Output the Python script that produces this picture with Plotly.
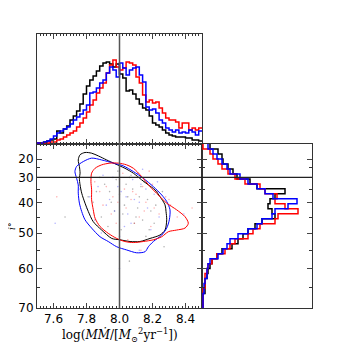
import numpy as np
import plotly.graph_objects as go

# --- top histogram: log(M Mdot), bins of 0.02 from 7.5 to 8.5 ---
mm_edges = np.round(np.arange(7.5, 8.5001, 0.02), 3)
hist_top_black = [1, 1, 2, 3, 4, 5, 13, 11, 15, 18, 24, 28, 33, 40, 50, 58, 64, 68, 73, 78,
                  81, 82, 80, 77, 80, 70, 66, 53, 54, 50, 45, 40, 36, 34, 28, 21, 19, 17, 14, 11,
                  9, 8, 7, 7, 7, 6, 6, 4, 4, 3]
hist_top_blue = [1, 1, 2, 3, 5, 8, 11, 13, 15, 17, 20, 24, 27, 30, 34, 39, 51, 52, 56, 61,
                 64, 71, 77, 74, 67, 81, 76, 69, 74, 76, 77, 69, 62, 37, 34, 35, 31, 24, 21, 16,
                 14, 12, 14, 11, 12, 11, 14, 12, 9, 13]
hist_top_red = [1, 1, 1, 1, 2, 2, 4, 5, 7, 9, 11, 13, 17, 21, 26, 32, 39, 44, 51, 56,
                61, 71, 79, 84, 77, 74, 76, 82, 81, 79, 67, 61, 49, 42, 44, 41, 42, 36, 31, 26,
                24, 24, 22, 16, 21, 21, 14, 16, 14, 16]

# --- right histogram: cos(i), bins of 0.02 from 1.0 down to 0.34 ---
cos_edges = np.round(np.arange(1.0, 0.3399, -0.02), 3)
hist_right_black = [8, 16, 20, 21, 26, 31, 35, 48, 55, 83, 73, 68, 66, 70, 73, 60, 53,
                    46, 41, 36, 30, 20, 15, 10, 8, 6, 5, 3, 3, 3, 1, 1, 1]
hist_right_red = [1, 8, 11, 16, 20, 26, 33, 43, 58, 63, 75, 73, 83, 96, 76, 73, 58,
                  51, 46, 33, 28, 23, 15, 10, 6, 5, 3, 3, 3, 1, 1, 1, 1]
hist_right_blue = [6, 11, 15, 20, 25, 28, 38, 46, 55, 63, 71, 95, 86, 73, 70, 60, 55,
                   46, 36, 28, 25, 21, 16, 8, 6, 5, 5, 3, 2, 2, 1, 1, 1]

# --- contours (logMMdot, inclination deg) ---
cont_black_x = [7.791, 7.761, 7.750, 7.757, 7.761, 7.757, 7.761, 7.771, 7.791, 7.811, 7.841,
                7.892, 7.953, 8.003, 8.064, 8.124, 8.185, 8.245, 8.276, 8.286, 8.282, 8.276,
                8.245, 8.215, 8.175, 8.134, 8.084, 8.033, 7.973, 7.922, 7.872, 7.831, 7.791]
cont_black_i = [15.0, 16.9, 20.6, 24.5, 28.0, 30.4, 33.3, 36.6, 40.3, 43.2, 46.5,
                49.1, 51.6, 52.0, 52.5, 52.5, 51.6, 50.6, 49.1, 45.9, 43.2, 40.9,
                37.9, 35.3, 33.3, 31.1, 28.0, 25.5, 23.0, 20.6, 17.8, 15.6, 15.0]
cont_blue_x = [7.730, 7.740, 7.781, 7.831, 7.892, 7.963, 8.023, 8.084, 8.144, 8.205, 8.256,
               8.286, 8.306, 8.302, 8.286, 8.256, 8.205, 8.175, 8.155, 8.104, 8.043, 7.983,
               7.932, 7.882, 7.831, 7.791, 7.771, 7.757, 7.750, 7.750, 7.740, 7.730]
cont_blue_i = [27.2, 24.5, 21.6, 19.4, 20.6, 22.6, 24.2, 27.2, 30.4, 34.0, 37.3,
               39.7, 42.6, 45.9, 48.5, 50.6, 52.5, 54.0, 55.4, 55.7, 54.9, 54.0,
               52.5, 51.1, 48.5, 45.9, 43.2, 40.3, 36.6, 33.3, 30.4, 27.2]
cont_red_x = [7.831, 7.852, 7.892, 7.942, 7.993, 8.043, 8.084, 8.134, 8.185, 8.235, 8.286,
              8.346, 8.397, 8.417, 8.397, 8.346, 8.296, 8.256, 8.205, 8.144, 8.084, 8.033,
              7.983, 7.932, 7.882, 7.852, 7.841, 7.831, 7.831, 7.827, 7.831]
cont_red_i = [28.0, 25.5, 23.6, 22.6, 22.6, 23.6, 25.5, 29.6, 34.0, 37.3, 40.3,
              42.6, 44.9, 47.0, 48.5, 49.1, 49.6, 51.1, 52.0, 52.5, 52.8, 52.5,
              51.6, 50.1, 48.0, 45.4, 42.6, 39.1, 35.3, 31.9, 28.0]

# --- scattered samples ---
dots_black_x = [7.86, 7.91, 7.95, 7.98, 8.02, 8.05, 8.08, 8.11, 8.14, 8.17, 7.89, 7.93, 8.00, 8.04,
                8.09, 8.13, 8.19, 8.22, 7.84, 7.97, 8.01, 8.06, 8.12, 8.16, 7.94, 8.03, 8.10, 8.26,
                7.67, 8.27, 8.06, 7.99, 8.15, 7.88, 8.21, 7.81, 8.07, 8.18]
dots_black_i = [36, 33, 40, 31, 44, 38, 35, 42, 46, 39, 45, 48, 37, 33, 47, 34, 43, 41, 40, 43,
                49, 30, 38, 51, 36, 41, 45, 36, 45, 54, 58, 27, 32, 30, 47, 38, 29, 49]
dots_red_x = [7.92, 7.96, 8.00, 8.04, 8.08, 8.12, 8.16, 8.20, 8.24, 8.28, 7.90, 7.98, 8.03, 8.07,
              8.11, 8.15, 8.19, 8.23, 8.31, 8.35, 7.88, 7.95, 8.02, 8.10, 8.14, 8.21, 8.26, 7.62,
              8.44, 8.05, 7.85, 8.18, 8.09, 7.99, 8.30, 8.13]
dots_red_i = [34, 38, 31, 42, 36, 45, 40, 33, 44, 38, 41, 47, 35, 39, 30, 43, 48, 36, 41, 45,
              36, 44, 28, 37, 34, 42, 50, 38, 42, 52, 32, 27, 47, 40, 39, 55]
dots_blue_x = [7.82, 7.87, 7.92, 7.96, 8.01, 8.05, 8.09, 8.13, 8.17, 8.21, 7.85, 7.90, 7.97, 8.03,
               8.08, 8.12, 8.16, 8.24, 7.80, 7.94, 8.00, 8.07, 8.11, 8.19, 7.61, 8.12, 8.00, 8.39,
               7.99, 8.14, 7.89, 8.04, 8.23, 7.76]
dots_blue_i = [38, 34, 41, 30, 36, 44, 39, 33, 42, 37, 46, 29, 43, 48, 31, 40, 35, 45, 42, 39,
               51, 47, 28, 49, 47, 55, 60, 44, 34, 26, 50, 38, 32, 35]

tick_deg = [20, 30, 40, 50, 60, 70]
minor_deg = [25, 35, 45, 55, 65]

cosd = lambda a: np.cos(np.radians(np.asarray(a, dtype=float)))

fig = go.Figure()

# top histogram
for counts, col in [(hist_top_black, "black"), (hist_top_red, "red"), (hist_top_blue, "blue")]:
    fig.add_trace(go.Scatter(x=mm_edges, y=list(counts) + [counts[-1]], mode="lines",
                             line=dict(color=col, width=1.5, shape="hv"),
                             xaxis="x2", yaxis="y2", showlegend=False))

# right histogram (horizontal steps)
for counts, col in [(hist_right_black, "black"), (hist_right_red, "red"), (hist_right_blue, "blue")]:
    xs, ys = [], []
    for j, w in enumerate(counts):
        xs += [w, w]
        ys += [cos_edges[j], cos_edges[j] - 0.02]
    fig.add_trace(go.Scatter(x=xs, y=ys, mode="lines", line=dict(color=col, width=1.5),
                             xaxis="x3", yaxis="y3", showlegend=False))

# dots
for dx, di, col in [(dots_black_x, dots_black_i, "black"), (dots_red_x, dots_red_i, "red"),
                    (dots_blue_x, dots_blue_i, "blue")]:
    fig.add_trace(go.Scatter(x=dx, y=cosd(di), mode="markers",
                             marker=dict(color=col, size=1.6, opacity=0.3, line=dict(width=0)),
                             showlegend=False))

# contours
for cx, ci, col in [(cont_black_x, cont_black_i, "black"), (cont_blue_x, cont_blue_i, "blue"),
                    (cont_red_x, cont_red_i, "red")]:
    fig.add_trace(go.Scatter(x=cx, y=cosd(ci), mode="lines",
                             line=dict(color=col, width=1, shape="spline", smoothing=0.8),
                             showlegend=False))

W, H = 346, 348
OFF = 8  # page body margin
px = lambda p: (p - OFF) / W
py = lambda p: 1 - (p - OFF) / H
L, R, Rr = px(37), px(202), px(312)
B, M, T = py(308), py(144), py(34)

ycos_range = [float(cosd(70)), 1.0]
axcol = "#333"
tickfont = dict(family="DejaVu Sans", size=12, color="black")

fig.update_layout(
    width=W, height=H, margin=dict(l=0, r=0, t=0, b=0, autoexpand=False),
    plot_bgcolor="white", paper_bgcolor="white",
    xaxis=dict(domain=[L, R], range=[7.5, 8.5], tickvals=[7.6, 7.8, 8.0, 8.2, 8.4],
               ticktext=["7.6", "7.8", "8.0", "8.2", "8.4"], ticks="inside", ticklen=5,
               minor=dict(dtick=0.02, tick0=7.5, ticks="inside", ticklen=2, tickcolor=axcol),
               showline=True, linecolor=axcol, mirror="allticks", showgrid=False,
               zeroline=False, tickfont=tickfont, anchor="y", automargin=False),
    yaxis=dict(domain=[B, M], range=ycos_range, tickvals=list(cosd(tick_deg)),
               ticktext=[str(d) for d in tick_deg], ticks="inside", ticklen=5,
               minor=dict(tickvals=list(cosd(minor_deg)), ticks="inside", ticklen=3, tickcolor=axcol),
               showline=True, linecolor=axcol, mirror="allticks", showgrid=False,
               zeroline=False, tickfont=tickfont, anchor="x", automargin=False),
    xaxis2=dict(domain=[L, R], range=[7.5, 8.5], matches="x", showticklabels=False,
                tickvals=[7.6, 7.8, 8.0, 8.2, 8.4], ticks="inside", ticklen=5,
                minor=dict(dtick=0.02, tick0=7.5, ticks="inside", ticklen=2, tickcolor=axcol),
                showline=True, linecolor=axcol, mirror="allticks", showgrid=False,
                zeroline=False, anchor="y2", automargin=False),
    yaxis2=dict(domain=[M, T], range=[0, 110], showticklabels=False, ticks="",
                showline=True, linecolor=axcol, mirror=True, showgrid=False,
                zeroline=False, anchor="x2", automargin=False),
    xaxis3=dict(domain=[R, Rr], range=[0, 110], showticklabels=False, ticks="",
                showline=True, linecolor=axcol, mirror=True, showgrid=False,
                zeroline=False, anchor="y3", automargin=False),
    yaxis3=dict(domain=[B, M], range=ycos_range, matches="y", showticklabels=False,
                tickvals=list(cosd(tick_deg)), ticks="inside", ticklen=5,
                minor=dict(tickvals=list(cosd(minor_deg)), ticks="inside", ticklen=3, tickcolor=axcol),
                showline=True, linecolor=axcol, mirror="allticks", showgrid=False,
                zeroline=False, anchor="x3", automargin=False),
)

# reference lines
fig.add_shape(type="line", xref="x", yref="paper", x0=8.0, x1=8.0, y0=B, y1=T,
              line=dict(color="#555", width=1.5))
fig.add_shape(type="line", xref="paper", yref="y", x0=L, x1=Rr, y0=float(cosd(30)), y1=float(cosd(30)),
              line=dict(color="#222", width=1.2))

fig.add_annotation(text="log(<i>M\u1e40</i>/[<i>M</i><sub>\u2299</sub><sup>2</sup>yr<sup>\u22121</sup>])",
                   xref="paper", yref="paper", x=px(120), y=py(335), showarrow=False,
                   xanchor="center", yanchor="middle",
                   font=dict(family="DejaVu Serif", size=12, color="black"))
fig.add_annotation(text="<i>i</i>°", xref="paper", yref="paper", x=px(12), y=py(227),
                   showarrow=False, textangle=-90, xanchor="center", yanchor="middle",
                   font=dict(family="DejaVu Serif", size=9, color="black"))

fig.write_html("out.html")
